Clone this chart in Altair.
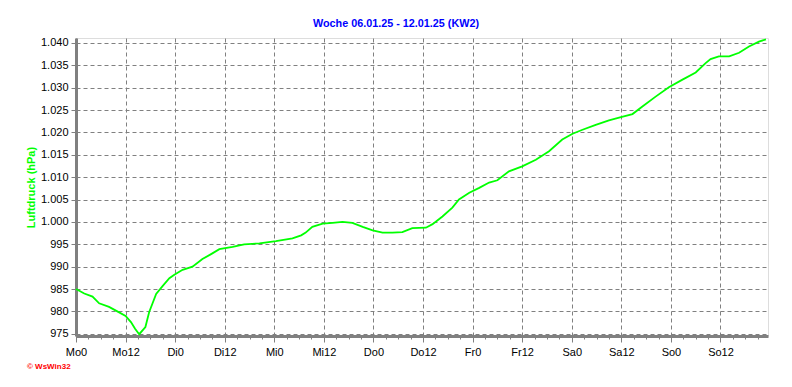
import altair as alt
import pandas as pd

# Hours since Monday 00:00 and air pressure (hPa)
hours = [0, 2, 4, 5.6, 8, 10, 12, 13.3, 14.3, 15.3, 16.8, 17.7, 19.4, 21, 22.6, 23.8,
         25.8, 28.2, 30.6, 32.7, 34.7, 37.9, 40.7, 44.4, 48.4, 52.4, 54.5, 55.6, 57.2,
         59.7, 62.1, 64.5, 66.9, 69.4, 71.8, 74.2, 76.6, 79, 81.4, 84.7, 86.3, 88.7,
         91.1, 92.7, 95.2, 97.6, 100, 102, 104.8, 108, 111.3, 114.5, 117.7, 120.2,
         122.6, 125.8, 129, 131.9, 134.7, 137.1, 140.3, 143.5, 146.8, 150, 152.4,
         153.6, 155.6, 158.1, 160.5, 162.9, 165.3, 167]
pressure = [985.0, 984.0, 983.3, 981.8, 981.0, 980.0, 979.0, 977.6, 976.1, 974.9, 976.5,
            979.8, 983.9, 985.7, 987.4, 988.2, 989.3, 990.0, 991.7, 992.8, 993.9, 994.4,
            995.0, 995.2, 995.7, 996.3, 997.0, 997.6, 998.9, 999.6, 999.8, 1000.0, 999.8,
            998.9, 998.1, 997.6, 997.6, 997.7, 998.6, 998.7, 999.5, 1001.2, 1003.2,
            1005.0, 1006.5, 1007.6, 1008.8, 1009.3, 1011.3, 1012.4, 1013.9, 1015.8,
            1018.4, 1019.7, 1020.6, 1021.7, 1022.7, 1023.4, 1024.1, 1025.8, 1028.0,
            1030.1, 1031.8, 1033.4, 1035.5, 1036.4, 1037.0, 1037.0, 1037.8, 1039.2,
            1040.3, 1040.8]

day_names = ["Mo", "Di", "Mi", "Do", "Fr", "Sa", "So"]
x_ticks = list(range(0, 168, 3))
y_ticks = [975, 980, 985, 990, 995, 1000, 1005, 1010, 1015, 1020, 1025, 1030, 1035, 1040]

title_text = "Woche 06.01.25 - 12.01.25 (KW2)"
y_title = "Luftdruck (hPa)"
logo_text = "\u00a9 WsWin32"

df = pd.DataFrame({"h": hours, "p": pressure})

days_js = "[" + ",".join("'%s'" % d for d in day_names) + "]"
x_label_expr = ("datum.value % 12 === 0 ? " + days_js +
                "[floor(datum.value / 24)] + (datum.value % 24) : ''")
y_label_expr = ("datum.value >= 1000 ? '1.' + format(datum.value - 1000, '03d') "
                ": format(datum.value, 'd')")

FONT = "Liberation Sans"

x_axis = alt.Axis(
    values=x_ticks,
    labelExpr=x_label_expr,
    title=None,
    grid=True,
    gridColor="#808080",
    gridDash=[4, 3],
    gridWidth=1,
    gridOpacity={"condition": {"test": "datum.value % 12 === 0", "value": 1}, "value": 0},
    tickSize={"condition": {"test": "datum.value % 12 === 0", "value": 6}, "value": 3},
    tickColor="#808080",
    tickWidth=1,
    domainColor="#808080",
    domainWidth=3,
    labelFont=FONT,
    labelFontSize=11,
    labelColor="#000000",
    labelPadding=4,
    labelFlush=False,
    labelOverlap=False,
)

y_axis = alt.Axis(
    values=y_ticks,
    labelExpr=y_label_expr,
    title=y_title,
    titleFont=FONT,
    titleFontSize=11,
    titleFontWeight="bold",
    titleColor="#00FF00",
    titleAngle=270,
    titleX=-45,
    titleY=149,
    titleAlign="center",
    titleBaseline="middle",
    grid=True,
    gridColor="#808080",
    gridDash=[4, 3],
    gridWidth=1,
    tickSize=5,
    tickColor="#808080",
    domainColor="#808080",
    domainWidth=3,
    labelFont=FONT,
    labelFontSize=11,
    labelColor="#000000",
    labelPadding=3,
    labelOverlap=False,
)

line = alt.Chart(df).mark_line(color="#00FF00", strokeWidth=1.8).encode(
    x=alt.X("h:Q", scale=alt.Scale(domain=[0, 167.5], nice=False, zero=False), axis=x_axis),
    y=alt.Y("p:Q", scale=alt.Scale(domain=[974.5, 1041.1], nice=False, zero=False), axis=y_axis),
)

logo = alt.Chart(pd.DataFrame({"t": [logo_text]})).mark_text(
    align="left", baseline="middle", font=FONT, fontSize=8, fontWeight="bold", color="#FF0000"
).encode(text="t:N", x=alt.value(-49), y=alt.value(329))

chart = alt.layer(line, logo).properties(
    width=692,
    height=298,
    title=alt.TitleParams(
        text=title_text, font=FONT, fontSize=10.8, fontWeight="bold", color="#0000FF",
        anchor="middle", dx=-26, dy=12, offset=8, baseline="bottom",
    ),
    autosize=alt.AutoSizeParams(type="none"),
    padding={"left": 68, "top": 30, "right": 16, "bottom": 43},
).configure_view(
    stroke="#000000", strokeWidth=1.5
).configure(background="#FFFFFF")

chart.save("out.html", embed_options={"renderer": "svg", "actions": False})
